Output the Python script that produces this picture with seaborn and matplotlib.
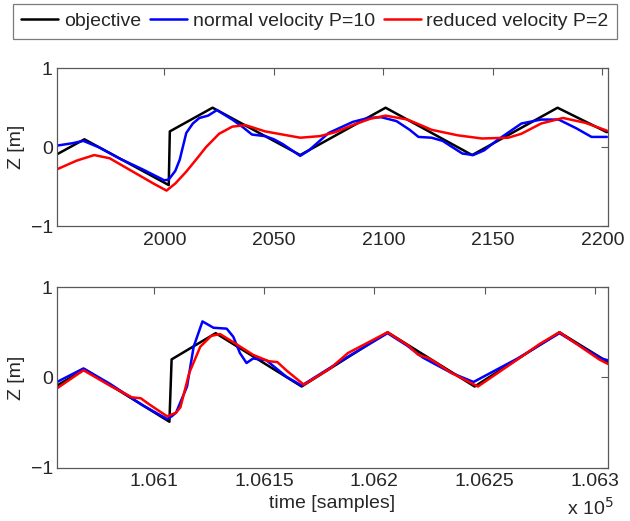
"""Tracking of the objective Z trajectory: normal vs reduced velocity."""

import matplotlib
matplotlib.use("Agg")
import matplotlib.pyplot as plt
import numpy as np
import pandas as pd
import seaborn as sns
from matplotlib.ticker import FuncFormatter

# ---- data -----------------------------------------------------------------
SERIES = ["objective", "normal velocity P=10", "reduced velocity P=2"]
COLORS = ["black", "#0000ff", "#ff0000"]

# top panel (samples ~1950-2202)
top_obj_x = [1951, 1963.5, 2002, 2002.5, 2022, 2062, 2101, 2140.5, 2179.5, 2202]
top_obj_y = [-0.09, 0.10, -0.48, 0.20, 0.50, -0.10, 0.50, -0.10, 0.50, 0.19]

top_norm_x = [1951, 1958, 1963, 1970, 1980, 1990, 2000, 2002, 2005, 2007, 2010, 2013,
              2016, 2020, 2024, 2031, 2036, 2040, 2046, 2050, 2054, 2062, 2066, 2075,
              2086, 2093, 2099, 2106, 2112, 2116, 2122, 2127, 2136, 2141, 2146, 2152,
              2163, 2172, 2180, 2188, 2195, 2202]
top_norm_y = [0.02, 0.05, 0.08, 0.00, -0.15, -0.28, -0.42, -0.41, -0.30, -0.16, 0.18, 0.30,
              0.37, 0.40, 0.47, 0.35, 0.25, 0.16, 0.14, 0.10, 0.04, -0.11, -0.04, 0.18,
              0.32, 0.37, 0.38, 0.33, 0.22, 0.13, 0.12, 0.08, -0.08, -0.10, -0.04, 0.09,
              0.30, 0.35, 0.35, 0.24, 0.13, 0.13]

top_red_x = [1951, 1960, 1968, 1975, 1985, 1995, 2001, 2005, 2010, 2015, 2019, 2025,
             2031, 2037, 2046, 2054, 2062, 2071, 2078, 2086, 2094, 2101, 2111, 2117,
             2122, 2134, 2145, 2157, 2163, 2172, 2182, 2192, 2202]
top_red_y = [-0.28, -0.17, -0.10, -0.14, -0.30, -0.46, -0.55, -0.46, -0.31, -0.14, 0.00, 0.17,
             0.26, 0.28, 0.20, 0.16, 0.12, 0.14, 0.19, 0.28, 0.36, 0.40, 0.35, 0.28,
             0.22, 0.15, 0.11, 0.12, 0.17, 0.30, 0.37, 0.31, 0.21]

# bottom panel (samples ~106056-106306)
bot_obj_x = [106056, 106068.5, 106107, 106108, 106128, 106167, 106206, 106245.5, 106284, 106306]
bot_obj_y = [-0.09, 0.09, -0.49, 0.20, 0.49, -0.10, 0.50, -0.10, 0.50, 0.17]

bot_norm_x = [106056, 106068, 106080, 106095, 106106, 106108, 106110, 106115, 106118, 106122,
              106127, 106133, 106136, 106139, 106142, 106145, 106151, 106160, 106167, 106186,
              106206, 106215, 106222, 106235, 106245, 106265, 106284, 106296, 106303, 106306]
bot_norm_y = [-0.05, 0.10, -0.07, -0.31, -0.46, -0.43, -0.39, -0.10, 0.34, 0.62,
              0.55, 0.54, 0.45, 0.27, 0.16, 0.21, 0.19, 0.01, -0.09, 0.20,
              0.49, 0.35, 0.22, 0.05, -0.05, 0.21, 0.49, 0.31, 0.21, 0.19]

bot_red_x = [106056, 106068, 106080, 106090, 106094, 106098, 106106, 106110, 106112, 106116,
             106121, 106126, 106130, 106136, 106145, 106152, 106156, 106160, 106168, 106180,
             106188, 106206, 106215, 106220, 106225, 106235, 106247, 106265, 106275, 106284,
             106296, 106302, 106306]
bot_red_y = [-0.12, 0.08, -0.09, -0.22, -0.23, -0.30, -0.43, -0.39, -0.33, 0.05,
             0.34, 0.46, 0.48, 0.39, 0.25, 0.18, 0.17, 0.08, -0.08, 0.10,
             0.27, 0.50, 0.36, 0.25, 0.21, 0.05, -0.10, 0.20, 0.37, 0.50,
             0.30, 0.20, 0.15]

Y_TICKS = [-1, 0, 1]
TOP_XTICKS = [2000, 2050, 2100, 2150, 2200]
BOT_XTICKS = [106100, 106150, 106200, 106250, 106300]


def _frame(xs, ys):
    parts = []
    for name, x, y in zip(SERIES, xs, ys):
        parts.append(pd.DataFrame({"t": x, "z": y, "series": name}))
    return pd.concat(parts, ignore_index=True)


def _style_axes(ax, xlim, xticks):
    ax.set_xlim(*xlim)
    ax.set_ylim(-1, 1)
    ax.set_yticks(Y_TICKS)
    ax.set_xticks(xticks)
    ax.tick_params(direction="in", top=True, right=True, length=5, width=0.8,
                   color="0.35", labelsize=14)
    ax.tick_params(axis="x", pad=4)
    ax.tick_params(axis="y", pad=3)
    for s in ax.spines.values():
        s.set_visible(True)
        s.set_color("0.35")
        s.set_linewidth(0.9)
    ax.set_ylabel("Z [m]", fontsize=14, labelpad=4)
    ax.set_xlabel("")


sns.set_style("white")
plt.rcParams["font.family"] = ["Liberation Sans", "DejaVu Sans"]
plt.rcParams["axes.unicode_minus"] = True

fig = plt.figure(figsize=(6.3, 5.21), dpi=100)
ax_top = fig.add_axes([0.0905, 0.566, 0.8745, 0.303])
ax_bot = fig.add_axes([0.0905, 0.102, 0.8745, 0.347])

palette = dict(zip(SERIES, COLORS))
top_df = _frame([top_obj_x, top_norm_x, top_red_x], [top_obj_y, top_norm_y, top_red_y])
bot_df = _frame([bot_obj_x, bot_norm_x, bot_red_x], [bot_obj_y, bot_norm_y, bot_red_y])

for ax, df in [(ax_top, top_df), (ax_bot, bot_df)]:
    sns.lineplot(data=df, x="t", y="z", hue="series", palette=palette, hue_order=SERIES,
                 sort=False, estimator=None, linewidth=1.8, ax=ax, legend=(ax is ax_top))

handles, labels = ax_top.get_legend_handles_labels()
ax_top.get_legend().remove()
leg = fig.legend(handles, labels, loc="upper left", bbox_to_anchor=(0.02, 0.993),
                 ncol=3, fontsize=14, frameon=True, fancybox=False, edgecolor="0.35",
                 handlelength=1.9, handletextpad=0.3, columnspacing=0.45,
                 borderpad=0.45, borderaxespad=0)
leg.get_frame().set_linewidth(0.9)

_style_axes(ax_top, (1951, 2202.5), TOP_XTICKS)
_style_axes(ax_bot, (106056, 106306), BOT_XTICKS)
ax_bot.xaxis.set_major_formatter(FuncFormatter(lambda v, p: f"{v / 1e5:g}"))
ax_bot.set_xlabel("time [samples]", fontsize=14, labelpad=3)
fig.text(0.937, 0.004, r"x 10$^5$", fontsize=14, ha="center", va="bottom")

fig.savefig("out.png", dpi=100)
